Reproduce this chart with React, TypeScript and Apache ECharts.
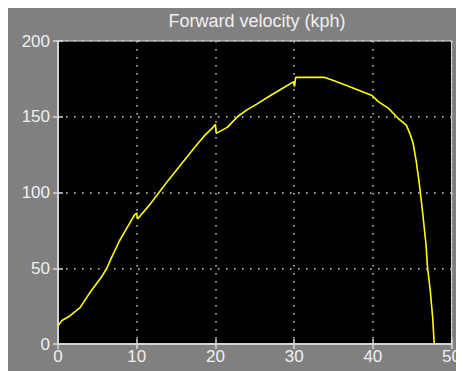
import React, { useEffect, useRef } from "react";
import * as echarts from "echarts";

const titleText = "Forward velocity (kph)";
const xTicks = [0, 10, 20, 30, 40, 50];
const yTicks = [0, 50, 100, 150, 200];
const time = [
  0, 0.5, 1.5, 2.8, 3.3, 4.2, 5.5, 6.2, 6.8, 7.8, 8.8, 9.7, 10, 10.1, 11.5, 12.4, 14, 15.7, 17.4,
  18.6, 19.7, 20, 20.1, 21.5, 22.8, 24, 25.3, 27, 28.6, 29.9, 30.05, 30.2, 33.8, 35, 36.5, 38.2,
  39.9, 40.7, 42, 43.2, 44.25, 44.7, 45.1, 45.5, 45.9, 46.3, 46.75, 46.95, 47.3, 47.6, 47.8,
];
const velocity = [
  12, 15.5, 18.5, 24, 28, 35, 44, 50, 57, 68, 77, 85, 86.5, 82.5, 91, 97, 108, 119, 130, 137.5,
  143, 145, 139, 143, 150, 154.5, 158.5, 164, 169, 173, 170, 176, 176, 174, 171, 167.5, 164, 160,
  155.5, 149, 144.5, 139, 133, 121, 106, 88, 66, 50.5, 35, 17.5, 0,
];

export default function App() {
  const ref = useRef<HTMLDivElement>(null);
  useEffect(() => {
    if (!ref.current) return;
    const chart = echarts.init(ref.current, undefined, { renderer: "svg" });
    const axisColor = "#d8d8d8";
    const labelColor = "#f0f0f0";
    const font = "Liberation Sans";
    const common = {
      type: "value" as const,
      axisLine: { show: true, lineStyle: { color: axisColor, width: 1.5 } },
      axisTick: { show: true, inside: true, length: 5, lineStyle: { color: axisColor, width: 1.5 } },
    };
    chart.setOption({
      animation: false,
      backgroundColor: "#808080",
      grid: {
        left: 50,
        top: 33,
        right: 6,
        bottom: 27,
        show: true,
        backgroundColor: "#000000",
        borderColor: axisColor,
        borderWidth: 1,
      },
      graphic: [
        {
          type: "text",
          x: 249,
          y: 13,
          style: {
            text: titleText,
            fill: labelColor,
            font: `18px "${font}"`,
            textAlign: "center",
            textVerticalAlign: "middle",
          },
        },
      ],
      xAxis: [
        {
          ...common,
          min: xTicks[0],
          max: xTicks[xTicks.length - 1],
          interval: 10,
          position: "bottom",
          axisLabel: { color: labelColor, fontSize: 17, fontFamily: font, margin: 4 },
          splitLine: { show: true, lineStyle: { color: "#d0d0d0", type: [1.5, 6.5], width: 1.5 } },
        },
        {
          ...common,
          min: xTicks[0],
          max: xTicks[xTicks.length - 1],
          interval: 10,
          position: "top",
          axisLabel: { show: false },
          splitLine: { show: false },
        },
      ],
      yAxis: [
        {
          ...common,
          min: yTicks[0],
          max: yTicks[yTicks.length - 1],
          interval: 50,
          position: "left",
          axisLabel: { color: labelColor, fontSize: 17, fontFamily: font, margin: 8 },
          splitLine: { show: true, lineStyle: { color: "#d0d0d0", type: [1.5, 6.5], width: 1.5 } },
        },
        {
          ...common,
          min: yTicks[0],
          max: yTicks[yTicks.length - 1],
          interval: 50,
          position: "right",
          axisLabel: { show: false },
          splitLine: { show: false },
        },
      ],
      series: [
        {
          type: "line",
          data: time.map((t, i) => [t, velocity[i]]),
          showSymbol: false,
          lineStyle: { color: "#ffff00", width: 1.6 },
          itemStyle: { color: "#ffff00" },
          xAxisIndex: 0,
          yAxisIndex: 0,
          z: 5,
        },
      ],
    });
    return () => chart.dispose();
  }, []);
  return <div ref={ref} style={{ width: 456, height: 363 }} />;
}
